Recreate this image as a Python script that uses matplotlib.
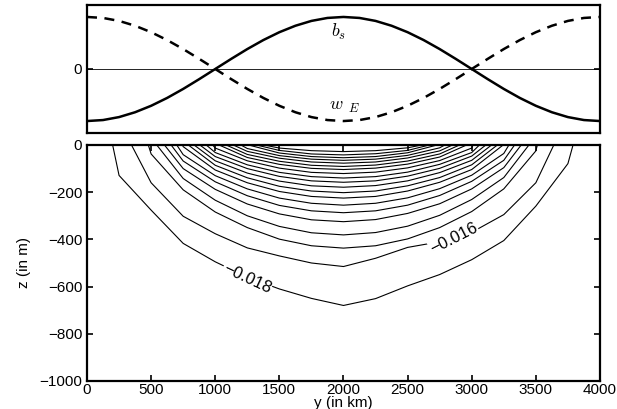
import numpy as np
import matplotlib
matplotlib.use("Agg")
import matplotlib.pyplot as plt

plt.rcParams['font.family'] = ['Liberation Sans', 'DejaVu Sans']
plt.rcParams['mathtext.fontset'] = 'cm'

n = np.nan

# top panel: surface buoyancy b_s and Ekman pumping w_E (normalised)
y_top = [0, 125, 250, 375, 500, 625, 750, 875, 1000, 1125, 1250, 1375, 1500, 1625, 1750, 1875,
         2000, 2125, 2250, 2375, 2500, 2625, 2750, 2875, 3000, 3125, 3250, 3375, 3500, 3625,
         3750, 3875, 4000]
b_s = [-1.0, -0.981, -0.924, -0.831, -0.707, -0.556, -0.383, -0.195, 0.0, 0.195, 0.383, 0.556,
       0.707, 0.831, 0.924, 0.981, 1.0, 0.981, 0.924, 0.831, 0.707, 0.556, 0.383, 0.195, 0.0,
       -0.195, -0.383, -0.556, -0.707, -0.831, -0.924, -0.981, -1.0]
w_E = [1.0, 0.981, 0.924, 0.831, 0.707, 0.556, 0.383, 0.195, 0.0, -0.195, -0.383, -0.556,
       -0.707, -0.831, -0.924, -0.981, -1.0, -0.981, -0.924, -0.831, -0.707, -0.556, -0.383,
       -0.195, 0.0, 0.195, 0.383, 0.556, 0.707, 0.831, 0.924, 0.981, 1.0]

# bottom panel: contour depths (m) at fixed y columns (km)
cols = [250, 500, 750, 1000, 1250, 1500, 1750, 2000, 2250, 2500, 2750, 3000, 3250, 3500, 3750]
y_left = [200, 347, 478, 544, 604, 656, 700, 745, 790, 835, 880, 930, 980, 1030, 1085, 1140,
          1200, 1260, 1320, 1380]
y_right = [3790, 3640, 3512, 3446, 3386, 3334, 3290, 3245, 3200, 3155, 3110, 3060, 3010, 2960,
           2905, 2850, 2790, 2730, 2670, 2610]
depths = [
    [129, 276, 417, 495, 560, 610, 650, 680, 651, 597, 549, 486, 405, 259, 79],
    [n, 160, 302, 376, 436, 470, 500, 515, 480, 434, 410, 370, 295, 160, n],
    [n, 38, 190, 284, 350, 399, 427, 437, 427, 398, 350, 282, 186, 25, n],
    [n, n, 142, 234, 300, 345, 372, 381, 371, 344, 298, 231, 138, n, n],
    [n, n, 100, 188, 250, 292, 317, 325, 316, 290, 249, 186, 96, n, n],
    [n, n, 68, 156, 215, 256, 279, 287, 279, 255, 214, 154, 65, n, n],
    [n, n, 41, 130, 186, 225, 247, 255, 247, 224, 185, 128, 36, n, n],
    [n, n, 7, 106, 160, 197, 218, 225, 218, 195, 158, 104, n, n, n],
    [n, n, n, 86, 139, 175, 195, 202, 195, 173, 138, 84, n, n, n],
    [n, n, n, 67, 119, 153, 173, 179, 172, 152, 117, 65, n, n, n],
    [n, n, n, 49, 100, 133, 152, 158, 152, 132, 99, 47, n, n, n],
    [n, n, n, 32, 84, 116, 134, 140, 134, 115, 82, 32, n, n, n],
    [n, n, n, 13, 67, 98, 116, 121, 115, 97, 66, 13, n, n, n],
    [n, n, n, n, 53, 82, 99, 104, 98, 81, 51, n, n, n, n],
    [n, n, n, n, 40, 69, 86, 91, 85, 68, 38, n, n, n, n],
    [n, n, n, n, 27, 56, 72, 77, 72, 55, 25, n, n, n, n],
    [n, n, n, n, 15, 45, 60, 65, 60, 44, 12, n, n, n, n],
    [n, n, n, n, n, 34, 49, 54, 49, 33, n, n, n, n, n],
    [n, n, n, n, n, 23, 38, 42, 37, 23, n, n, n, n, n],
    [n, n, n, n, n, 13, 24, 28, 24, 12, n, n, n, n, n],
]

fig = plt.figure(figsize=(6.17, 4.09), dpi=100)
ax1 = fig.add_axes([0.141, 0.6748, 0.8314, 0.313])
ax2 = fig.add_axes([0.141, 0.0685, 0.8314, 0.577])

# top panel
ax1.axhline(0, color='k', lw=0.6)
ax1.plot(y_top, b_s, 'k-', lw=1.8)
ax1.plot(y_top, w_E, 'k--', lw=1.8, dashes=(4, 3))
ax1.set_xlim(0, 4000)
ax1.set_ylim(-1.23, 1.23)
ax1.set_xticks([])
ax1.set_yticks([0])
ax1.tick_params(axis='y', direction='in', right=True, length=4, width=1.2, labelsize=11)
ax1.text(1900, 0.72, r'$b_s$', fontsize=13, ha='left', va='center')
ax1.text(1890, -0.72, r'$w_{\;\;E}$', fontsize=13, ha='left', va='center')

# bottom panel
cols_a = np.array(cols, dtype=float)
for a, b, d in zip(y_left, y_right, depths):
    d = np.array(d, dtype=float)
    ok = ~np.isnan(d)
    ys = np.concatenate([[a], cols_a[ok], [b]])
    zs = np.concatenate([[0], -d[ok], [0]])
    ax2.plot(ys, zs, 'k-', lw=0.8)

lab = dict(fontsize=12, ha='center', va='center',
           bbox=dict(facecolor='white', edgecolor='none', pad=0.5))
ax2.text(1247, -565, '\u22120.018', rotation=-25, **lab)
ax2.text(2860, -396, '\u22120.016', rotation=27, **lab)

ax2.set_xlim(0, 4000)
ax2.set_ylim(-1000, 0)
ax2.set_xticks(range(0, 4001, 500))
ax2.set_yticks(range(-1000, 1, 200))
ax2.tick_params(direction='in', top=True, right=True, length=4, width=1.2, labelsize=11,
                pad=1.5)
ax2.tick_params(axis='y', pad=3.5)
ax2.set_xlabel('y (in km)', fontsize=11, labelpad=-1)
ax2.set_ylabel('z (in m)', fontsize=11, labelpad=6)

for ax in (ax1, ax2):
    for s in ax.spines.values():
        s.set_linewidth(1.6)

fig.savefig('out.png', dpi=100)
